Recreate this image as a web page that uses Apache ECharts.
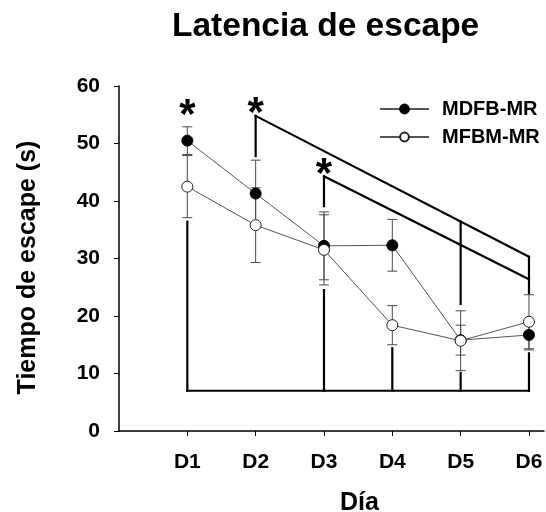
<!DOCTYPE html>
<html>
<head>
<meta charset="utf-8">
<script src="https://cdn.jsdelivr.net/npm/echarts@6/dist/echarts.min.js"></script>
<style>
  html, body { margin: 0; padding: 0; background: #fff; }
  #chart { width: 546px; height: 512px; }
</style>
</head>
<body>
<div id="chart"></div>
<script>
// Escape latency per day for the two groups (mean ± error)
const days = [1, 2, 3, 4, 5, 6];
const dayLabels = ['D1', 'D2', 'D3', 'D4', 'D5', 'D6'];
const seriesNames = ['MDFB-MR', 'MFBM-MR'];

const mdfbMean = [50.5, 41.3, 32.2, 32.3, 15.8, 16.7];
const mdfbErr  = [2.4, 5.8, 5.9, 4.5, 2.6, 2.6];
const mfbmMean = [42.5, 35.8, 31.5, 18.4, 15.7, 19.0];
const mfbmErr  = [5.4, 6.5, 6.1, 3.4, 5.2, 4.7];

const yTicks = [0, 10, 20, 30, 40, 50, 60];

// Significance brackets: [x1, y1, x2, y2] in data units
const bracketSegments = [
  [1, 7, 6, 7],
  [1, 7, 1, 36.4],
  [2, 47.8, 2, 54.8],
  [2, 54.8, 6, 30.3],
  [3, 39.1, 3, 44.3],
  [3, 44.3, 6, 26.4],
  [3, 7, 3, 24.5],
  [4, 7, 4, 14.4],
  [5, 22.1, 5, 36.4],
  [5, 7, 5, 10.1],
  [6, 24.0, 6, 30.3],
  [6, 7, 6, 13.5]
];

// Asterisk positions [x, y]
const starMarks = [[1, 56.2], [2, 56.7], [3, 46.0]];

const FONT = '"Liberation Sans", Arial, sans-serif';

function pairs(xs, ys) { return xs.map((x, i) => [x, ys[i]]); }
function errData(xs, m, e) { return xs.map((x, i) => [x, m[i], e[i]]); }

function renderErr(params, api) {
  const x = api.value(0), m = api.value(1), e = api.value(2);
  const top = api.coord([x, m + e]);
  const bot = api.coord([x, m - e]);
  const hw = 5;
  const st = { stroke: '#4a4a4a', lineWidth: 1 };
  return {
    type: 'group',
    children: [
      { type: 'line', shape: { x1: top[0], y1: top[1], x2: bot[0], y2: bot[1] }, style: st },
      { type: 'line', shape: { x1: top[0] - hw, y1: top[1], x2: top[0] + hw, y2: top[1] }, style: st },
      { type: 'line', shape: { x1: bot[0] - hw, y1: bot[1], x2: bot[0] + hw, y2: bot[1] }, style: st }
    ]
  };
}

const chart = echarts.init(document.getElementById('chart'), null, { renderer: 'canvas' });

chart.setOption({
  animation: false,
  backgroundColor: '#ffffff',
  title: {
    text: 'Latencia de escape',
    left: 172,
    top: 10,
    padding: 0,
    textStyle: { fontFamily: FONT, fontWeight: 'bold', fontSize: 33.5, color: '#000' }
  },
  legend: {
    data: seriesNames,
    orient: 'vertical',
    left: 379,
    top: 99,
    padding: 0,
    itemWidth: 49,
    itemHeight: 11,
    itemGap: 8,
    textStyle: { fontFamily: FONT, fontWeight: 'bold', fontSize: 20, color: '#000', padding: [0, 0, 0, 8] }
  },
  grid: { left: 119, right: 2, top: 86, bottom: 81, containLabel: false, outerBoundsMode: 'none' },
  xAxis: {
    type: 'value',
    min: 0,
    max: 6.22,
    interval: 1,
    name: 'Día',
    nameLocation: 'middle',
    nameGap: 60,
    nameTextStyle: { fontFamily: FONT, fontWeight: 'bold', fontSize: 25, color: '#000', padding: [0, 0, 0, 56] },
    axisLine: { lineStyle: { color: '#000', width: 1.5 } },
    axisTick: { show: true, length: 5, customValues: days, lineStyle: { color: '#000', width: 1 } },
    axisLabel: {
      customValues: days,
      margin: 21,
      fontFamily: FONT, fontWeight: 'bold', fontSize: 21, color: '#000',
      formatter: v => dayLabels[days.indexOf(Math.round(v))] || ''
    },
    splitLine: { show: false }
  },
  yAxis: {
    type: 'value',
    min: 0,
    max: 60,
    interval: 10,
    name: 'Tiempo de escape (s)',
    nameLocation: 'middle',
    nameGap: 78,
    nameTextStyle: { fontFamily: FONT, fontWeight: 'bold', fontSize: 25, color: '#000', padding: [0, 18, 0, 0] },
    axisLine: { show: true, lineStyle: { color: '#000', width: 1.5 } },
    axisTick: { show: true, length: 5, customValues: yTicks, lineStyle: { color: '#000', width: 1 } },
    axisLabel: { customValues: yTicks, margin: 19, fontFamily: FONT, fontWeight: 'bold', fontSize: 21, color: '#000' },
    splitLine: { show: false }
  },
  series: [
    {
      name: 'brackets',
      type: 'custom',
      z: 1,
      silent: true,
      data: bracketSegments,
      encode: { x: [0, 2], y: [1, 3] },
      renderItem: function (params, api) {
        const a = api.coord([api.value(0), api.value(1)]);
        const b = api.coord([api.value(2), api.value(3)]);
        return { type: 'line', shape: { x1: a[0], y1: a[1], x2: b[0], y2: b[1] },
                 style: { stroke: '#000', lineWidth: 2.2, lineCap: 'square' } };
      }
    },
    {
      name: 'mdfbErr',
      type: 'custom',
      z: 2,
      silent: true,
      data: errData(days, mdfbMean, mdfbErr),
      renderItem: renderErr
    },
    {
      name: 'mfbmErr',
      type: 'custom',
      z: 2,
      silent: true,
      data: errData(days, mfbmMean, mfbmErr),
      renderItem: renderErr
    },
    {
      name: seriesNames[0],
      type: 'line',
      z: 3,
      data: pairs(days, mdfbMean),
      symbol: 'circle',
      symbolSize: 11,
      lineStyle: { color: '#555', width: 1 },
      itemStyle: { color: '#000', borderColor: '#000', borderWidth: 1 }
    },
    {
      name: seriesNames[1],
      type: 'line',
      z: 4,
      data: pairs(days, mfbmMean),
      symbol: 'circle',
      symbolSize: 11,
      lineStyle: { color: '#555', width: 1 },
      itemStyle: { color: '#fff', borderColor: '#222', borderWidth: 1 }
    },
    {
      name: 'stars',
      type: 'custom',
      z: 5,
      silent: true,
      data: starMarks,
      renderItem: function (params, api) {
        const p = api.coord([api.value(0), api.value(1)]);
        return { type: 'text', x: p[0], y: p[1] + 9,
                 style: { text: '*', fill: '#000', fontFamily: FONT, fontWeight: 'bold', fontSize: 42,
                          align: 'center', verticalAlign: 'middle' } };
      }
    }
  ]
});
</script>
</body>
</html>
